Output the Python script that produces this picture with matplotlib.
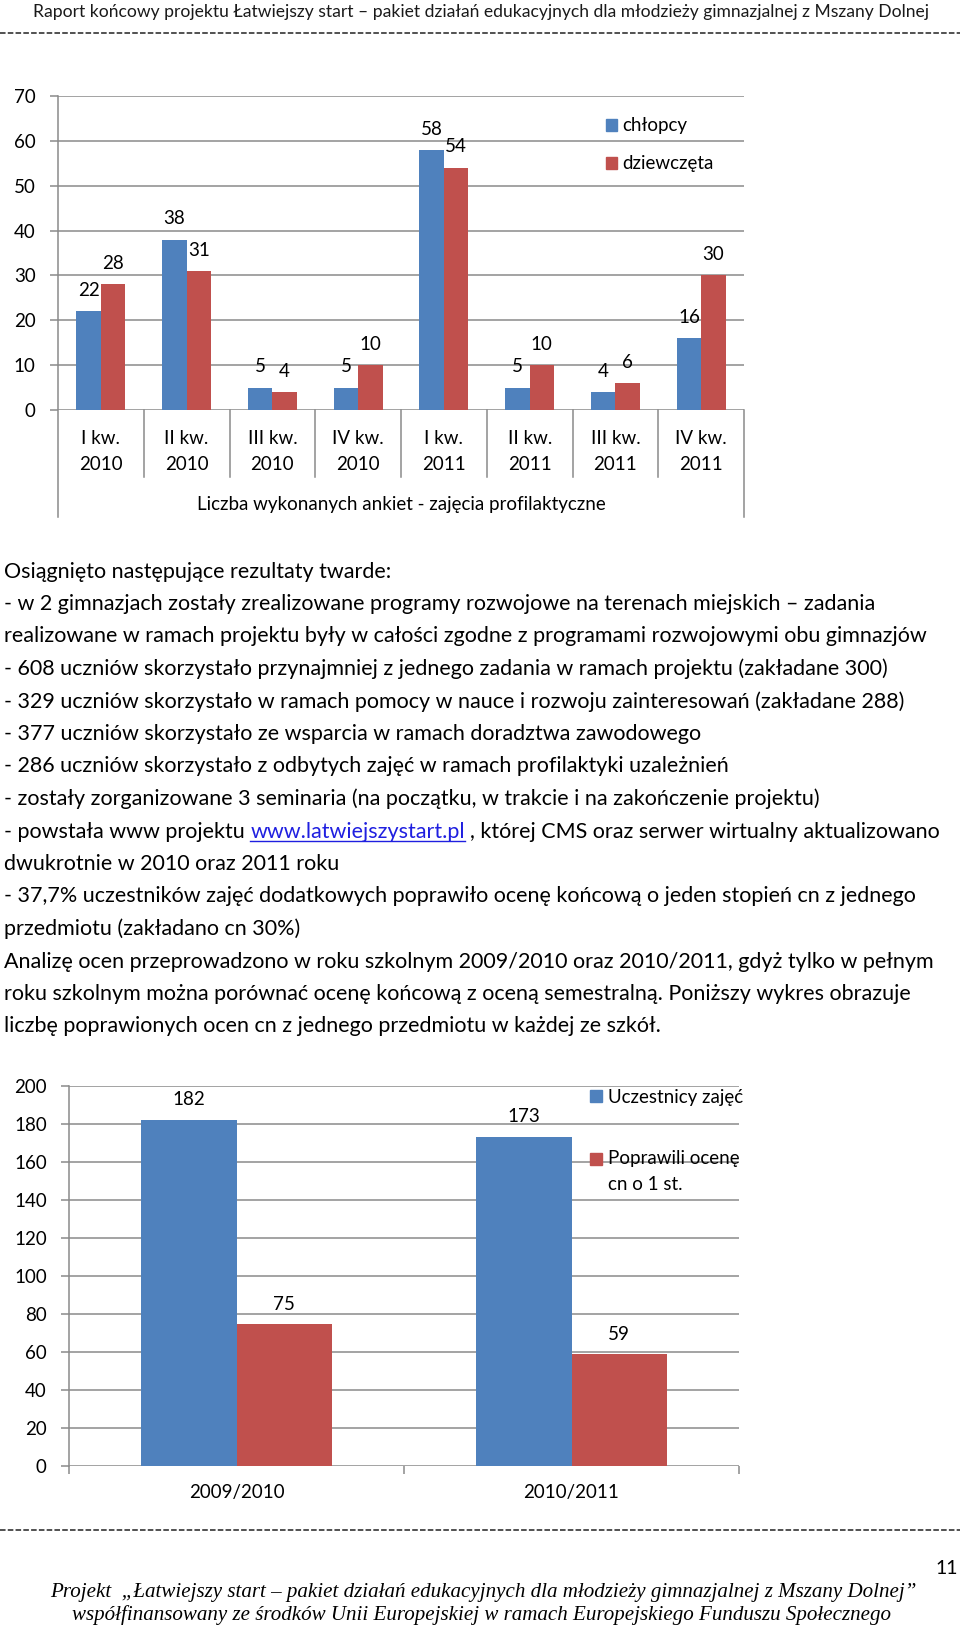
import matplotlib
matplotlib.use('Agg')
import matplotlib.pyplot as plt
import matplotlib.transforms as mtransforms
from matplotlib.patches import Rectangle
from matplotlib.lines import Line2D
import numpy as np

plt.rcParams['font.family'] = ['Lato', 'DejaVu Sans']
plt.rcParams['lines.scale_dashes'] = False

# ---------------- data ----------------
header_text = "Raport końcowy projektu Łatwiejszy start – pakiet działań edukacyjnych dla młodzieży gimnazjalnej z Mszany Dolnej"

q_categories = ['I kw.\n2010', 'II kw.\n2010', 'III kw.\n2010', 'IV kw.\n2010',
                'I kw.\n2011', 'II kw.\n2011', 'III kw.\n2011', 'IV kw.\n2011']
chlopcy = [22, 38, 5, 5, 58, 5, 4, 16]
dziewczeta = [28, 31, 4, 10, 54, 10, 6, 30]
q_series_names = ['chłopcy', 'dziewczęta']
q_axis_title = 'Liczba wykonanych ankiet - zajęcia profilaktyczne'
q_yticks = [0, 10, 20, 30, 40, 50, 60, 70]

body_lines = [
    "Osiągnięto następujące rezultaty twarde:",
    "- w 2 gimnazjach zostały zrealizowane programy rozwojowe na terenach miejskich – zadania",
    "realizowane w ramach projektu były w całości zgodne z programami rozwojowymi obu gimnazjów",
    "- 608 uczniów skorzystało przynajmniej z jednego zadania w ramach projektu (zakładane 300)",
    "- 329 uczniów skorzystało w ramach pomocy w nauce i rozwoju zainteresowań (zakładane 288)",
    "- 377 uczniów skorzystało ze wsparcia w ramach doradztwa zawodowego",
    "- 286 uczniów skorzystało z odbytych zajęć w ramach profilaktyki uzależnień",
    "- zostały zorganizowane 3 seminaria (na początku, w trakcie i na zakończenie projektu)",
    None,
    "dwukrotnie w 2010 oraz 2011 roku",
    "- 37,7% uczestników zajęć dodatkowych poprawiło ocenę końcową o jeden stopień cn z jednego",
    "przedmiotu (zakładano cn 30%)",
    "Analizę ocen przeprowadzono w roku szkolnym 2009/2010 oraz 2010/2011, gdyż tylko w pełnym",
    "roku szkolnym można porównać ocenę końcową z oceną semestralną. Poniższy wykres obrazuje",
    "liczbę poprawionych ocen cn z jednego przedmiotu w każdej ze szkół.",
]
link_before = "- powstała www projektu"
link_text = "www.latwiejszystart.pl"
link_after = ", której CMS oraz serwer wirtualny aktualizowano"

year_categories = ['2009/2010', '2010/2011']
uczestnicy = [182, 173]
poprawili = [75, 59]
y_series_names = ['Uczestnicy zajęć', 'Poprawili ocenę\ncn o 1 st.']
y_yticks = [0, 20, 40, 60, 80, 100, 120, 140, 160, 180, 200]

footer_lines = ["Projekt  „Łatwiejszy start – pakiet działań edukacyjnych dla młodzieży gimnazjalnej z Mszany Dolnej”",
                "współfinansowany ze środków Unii Europejskiej w ramach Europejskiego Funduszu Społecznego"]
page_number = "11"

# ---------------- style ----------------
W, H = 960, 1628
BLUE = '#4F81BD'
RED = '#C0504D'
GRID = '#8A8A8A'
GLW = 1.1
FS = 13.5

fig = plt.figure(figsize=(W / 100, H / 100), dpi=100)
fig.patch.set_facecolor('white')
transP = mtransforms.Affine2D().scale(1.0 / W, -1.0 / H).translate(0, 1) + fig.transFigure
renderer = fig.canvas.get_renderer()


def fbox(l, t, r, b):
    return [l / W, 1 - b / H, (r - l) / W, (b - t) / H]


def width_px(t):
    return t.get_window_extent(renderer).width


def fit_width(t, target):
    fs = t.get_fontsize()
    t.set_fontsize(fs * target / width_px(t))


def dashed_rule(y):
    fig.add_artist(Line2D([0, W], [y, y], transform=transP, color='#222222', lw=1.1,
                          linestyle=(0, (4.0, 1.6))))


# ---------------- header ----------------
ht = fig.text(481, 17, header_text, transform=transP, ha='center', va='baseline',
              fontsize=11, color='#1a1a1a')
fit_width(ht, 890)
dashed_rule(33)

# ---------------- top chart ----------------
L1, R1, T1, B1 = 58, 744, 96, 410
ax1 = fig.add_axes(fbox(L1, T1, R1, B1))
ax1.set_xlim(-0.5, len(q_categories) - 0.5)
ax1.set_ylim(0, 70)
for s in ax1.spines.values():
    s.set_visible(False)
ax1.set_yticks(q_yticks)
ax1.set_xticks([])
ax1.yaxis.grid(True, color=GRID, lw=GLW)
ax1.set_axisbelow(True)
ax1.tick_params(axis='y', length=6, width=GLW, color=GRID, direction='out', pad=10,
                labelsize=FS, labelcolor='black')

x = np.arange(len(q_categories))
bw = 0.285
b1 = ax1.bar(x - bw / 2, chlopcy, bw, color=BLUE, zorder=3, label=q_series_names[0])
b2 = ax1.bar(x + bw / 2, dziewczeta, bw, color=RED, zorder=3, label=q_series_names[1])
for bars, vals in ((b1, chlopcy), (b2, dziewczeta)):
    for rect, v in zip(bars, vals):
        ax1.annotate(str(v), (rect.get_x() + rect.get_width() / 2, v), xytext=(0, 15.3),
                     textcoords='offset pixels', ha='center', va='baseline', fontsize=FS)

bl1 = mtransforms.blended_transform_factory(ax1.transData, transP)
ext_sep = 477
ext_full = 517
for xi in np.arange(0.5, len(q_categories) - 0.5, 1.0):
    fig.add_artist(Line2D([xi, xi], [B1, ext_sep], transform=bl1, color=GRID, lw=GLW))
fig.add_artist(Line2D([-0.5, -0.5], [T1, ext_full], transform=bl1, color=GRID, lw=GLW))
fig.add_artist(Line2D([len(q_categories) - 0.5] * 2, [B1, ext_full], transform=bl1, color=GRID, lw=GLW))
for xi, lab in zip(x, q_categories):
    l1, l2 = lab.split('\n')
    fig.text(xi, 444.5, l1, transform=bl1, ha='center', va='baseline', fontsize=FS)
    fig.text(xi, 469.5, l2, transform=bl1, ha='center', va='baseline', fontsize=FS)
fig.text(401, 510, q_axis_title, transform=transP, ha='center', va='baseline', fontsize=FS)

# legend (top)
for (y0, y1, base), col, name in zip(((119, 131, 131), (157, 169, 168.5)), (BLUE, RED), q_series_names):
    fig.add_artist(Rectangle((606, y0), 11, y1 - y0, transform=transP, color=col))
    fig.text(622, base, name, transform=transP, ha='left', va='baseline', fontsize=FS)

# ---------------- body text ----------------
BX = 4
base0 = 577.5
step = 32.5
probe = fig.text(BX, base0 + step * 2, body_lines[2], transform=transP, ha='left',
                 va='baseline', fontsize=13.3)
fit_width(probe, 922)
BFS = probe.get_fontsize()
probe.remove()

for i, line in enumerate(body_lines):
    yb = base0 + step * i
    if line is not None:
        fig.text(BX, yb, line, transform=transP, ha='left', va='baseline', fontsize=BFS)
    else:
        t1 = fig.text(BX, yb, link_before, transform=transP, ha='left', va='baseline', fontsize=BFS)
        sp_a = fig.text(0, 0, "a a", fontsize=BFS)
        sp_b = fig.text(0, 0, "aa", fontsize=BFS)
        space = width_px(sp_a) - width_px(sp_b)
        sp_a.remove(); sp_b.remove()
        xl = BX + width_px(t1) + space
        t2 = fig.text(xl, yb, link_text, transform=transP, ha='left', va='baseline',
                      fontsize=BFS, color='#1F1FE0')
        wl = width_px(t2)
        fig.add_artist(Line2D([xl, xl + wl], [yb + 3, yb + 3], transform=transP,
                              color='#1F1FE0', lw=1.0))
        fig.text(xl + wl + space, yb, link_after, transform=transP, ha='left',
                 va='baseline', fontsize=BFS)

# ---------------- bottom chart ----------------
L2, R2, T2, B2 = 69, 739, 1086, 1466
ax2 = fig.add_axes(fbox(L2, T2, R2, B2))
ax2.set_xlim(-0.5, len(year_categories) - 0.5)
ax2.set_ylim(0, 200)
for s in ax2.spines.values():
    s.set_visible(False)
ax2.set_yticks(y_yticks)
ax2.yaxis.grid(True, color=GRID, lw=GLW)
ax2.set_axisbelow(True)
ax2.tick_params(axis='y', length=6, width=GLW, color=GRID, direction='out', pad=10,
                labelsize=FS, labelcolor='black')
ax2.set_xticks(np.arange(-0.5, len(year_categories), 1.0))
ax2.set_xticklabels([])
ax2.tick_params(axis='x', length=6, width=GLW, color=GRID, direction='out')

x2 = np.arange(len(year_categories))
bw2 = 0.285
c1 = ax2.bar(x2 - bw2 / 2, uczestnicy, bw2, color=BLUE, zorder=3)
c2 = ax2.bar(x2 + bw2 / 2, poprawili, bw2, color=RED, zorder=3)
for bars, vals, off in ((c1, uczestnicy, 15.3), (c2, poprawili, 13.5)):
    for rect, v in zip(bars, vals):
        ax2.annotate(str(v), (rect.get_x() + rect.get_width() / 2, v), xytext=(0, off),
                     textcoords='offset pixels', ha='center', va='baseline', fontsize=FS)
fig.add_artist(Line2D([L2, L2], [T2, B2], transform=transP, color=GRID, lw=GLW))
bl2 = mtransforms.blended_transform_factory(ax2.transData, transP)
for xi, lab in zip(x2, year_categories):
    fig.text(xi, 1498, lab, transform=bl2, ha='center', va='baseline', fontsize=FS)

# legend (bottom), clipped at the chart area edge
clip = mtransforms.TransformedBbox(mtransforms.Bbox.from_extents(580 / W, 1 - 1210 / H, 745 / W, 1 - 1075 / H),
                                   fig.transFigure)
fig.add_artist(Rectangle((590, 1090), 12, 12, transform=transP, color=BLUE))
fig.add_artist(Rectangle((590, 1153), 12, 12, transform=transP, color=RED))
leg_items = [(y_series_names[0], 1102.7), ] + [(s, b) for s, b in zip(y_series_names[1].split('\n'), (1164, 1190))]
for s, b in leg_items:
    t = fig.text(608, b, s, transform=transP, ha='left', va='baseline', fontsize=FS)
    t.set_clip_on(True)
    t.set_clip_box(clip)

# ---------------- footer ----------------
dashed_rule(1530)
fig.text(958, 1574, page_number, transform=transP, ha='right', va='baseline', fontsize=14)
f1 = fig.text(483, 1597, footer_lines[0], transform=transP, ha='center', va='baseline',
              fontsize=12, family=['Liberation Serif', 'DejaVu Serif'], style='italic')
fit_width(f1, 868)
f2 = fig.text(482, 1620, footer_lines[1], transform=transP, ha='center', va='baseline',
              fontsize=f1.get_fontsize(), family=['Liberation Serif', 'DejaVu Serif'], style='italic')

fig.savefig('out.png', dpi=100, facecolor='white')
